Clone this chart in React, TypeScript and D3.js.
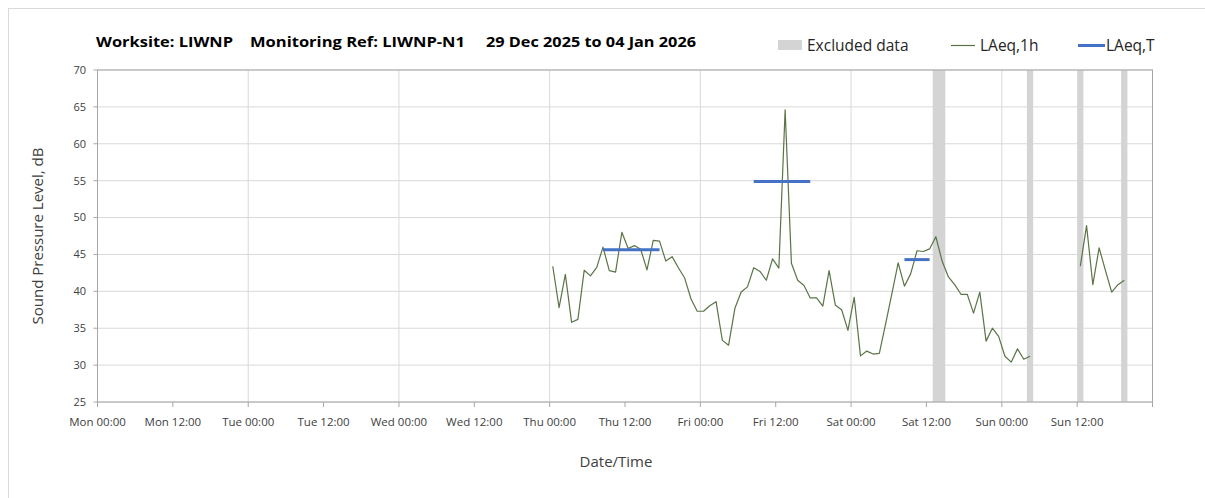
import React from 'react'
import * as d3 from 'd3'

const W = 1205, H = 498
const FONT = "'Open Sans', sans-serif"

// hourly LAeq,1h readings, first hour Thu 01 Jan 2026 00:00-01:00 (plotted at mid hour)
const firstHour = new Date(2026, 0, 1, 0, 30)
const laeq1h = [
    43.4, 37.8, 42.3, 35.8, 36.2, 42.85, 42.1, 43.25, 46.0, 42.8, 42.6, 48.0,
    45.8, 46.2, 45.7, 42.9, 46.9, 46.8, 44.1, 44.7, 43.2, 41.8, 39.0, 37.3,
    37.3, 38.05, 38.6, 33.35, 32.7, 37.7, 39.9, 40.6, 43.2, 42.7, 41.5, 44.4,
    43.15, 64.6, 43.8, 41.5, 40.8, 39.1, 39.1, 38.0, 42.8, 38.1, 37.5, 34.7,
    39.2, 31.25, 31.9, 31.5, 31.6, 35.6, 39.7, 43.85, 40.7, 42.4, 45.5, 45.4,
    45.75, 47.4, 44.1, 41.95, 40.9, 39.6, 39.6, 37.05, 39.9, 33.25, 35.0, 33.9,
    31.2, 30.4, 32.2, 30.8, 31.2, null, null, null, null, null, null, null,
    43.4, 48.9, 40.9, 45.9, 42.85, 39.9, 40.9, 41.5
]

// LAeq,T periods
const laeqTStart = ['2026-01-01T08:30', '2026-01-02T08:30', '2026-01-03T08:30']
const laeqTEnd = ['2026-01-01T17:30', '2026-01-02T17:30', '2026-01-03T12:30']
const laeqT = [45.65, 54.9, 44.3]

// excluded data periods
const exclStart = ['2026-01-03T13:00', '2026-01-04T04:00', '2026-01-04T12:00', '2026-01-04T19:00']
const exclEnd = ['2026-01-03T15:00', '2026-01-04T05:00', '2026-01-04T13:00', '2026-01-04T20:00']

const yTicks = [25, 30, 35, 40, 45, 50, 55, 60, 65, 70]

const plot = { left: 97.5, right: 1152.5, top: 70, bottom: 402 }

const x = d3.scaleTime()
    .domain([new Date(2025, 11, 29), new Date(2026, 0, 5)])
    .range([plot.left, plot.right])
const y = d3.scaleLinear().domain([25, 70]).range([plot.bottom, plot.top])

const hourly = laeq1h.map((v, i) => ({ t: d3.timeHour.offset(firstHour, i), v }))
const fmt = d3.timeFormat('%a %H:%M')

const GREEN = '#5b7446'
const BLUE = '#4472c4'
const EXCL = '#d4d4d4'
const GRID = '#d9d9d9'
const AXIS = '#a6a6a6'
const TXT = '#404040'

const Grid = () => {
    const days = x.ticks(d3.timeDay.every(1))
    return <g>
        {yTicks.map(t => <line key={'h' + t} x1={plot.left} x2={plot.right} y1={y(t)} y2={y(t)} stroke={GRID} strokeWidth={1} />)}
        {days.map(d => <line key={'v' + d.getTime()} x1={x(d)} x2={x(d)} y1={plot.top} y2={plot.bottom} stroke={GRID} strokeWidth={1} />)}
    </g>
}

const Excluded = () => <g>
    {exclStart.map((s, i) => {
        const x0 = x(new Date(s)), x1 = x(new Date(exclEnd[i]))
        return <rect key={s} x={x0} y={plot.top} width={x1 - x0} height={plot.bottom - plot.top} fill={EXCL} />
    })}
</g>

const Axes = () => {
    const ticks = x.ticks(d3.timeHour.every(12))
    const last = ticks.length - 1
    return <g>
        <rect x={plot.left} y={plot.top} width={plot.right - plot.left} height={plot.bottom - plot.top} fill="none" stroke={AXIS} strokeWidth={1} />
        {ticks.map((d, i) => <g key={d.getTime()} transform={`translate(${x(d)},0)`}>
            <line y1={plot.bottom} y2={plot.bottom + 5} stroke={AXIS} />
            {i < last && <text y={426} textAnchor="middle" fontSize={11.5} fill={TXT}>{fmt(d)}</text>}
        </g>)}
        {yTicks.map(t => <g key={t} transform={`translate(0,${y(t)})`}>
            <line x1={plot.left - 4} x2={plot.left} stroke={AXIS} />
            <text x={86} dy="0.35em" textAnchor="end" fontSize={11} fill={TXT}>{t}</text>
        </g>)}
        <text x={616} y={467} textAnchor="middle" fontSize={15} fill={TXT}>Date/Time</text>
        <text transform={`translate(43,${(plot.top + plot.bottom) / 2}) rotate(-90)`} textAnchor="middle" fontSize={15} fill={TXT}>Sound Pressure Level, dB</text>
    </g>
}

const Series = () => {
    const line = d3.line<{ t: Date, v: number | null }>()
        .defined(d => d.v !== null)
        .x(d => x(d.t))
        .y(d => y(d.v as number))
    return <g>
        <path d={line(hourly) || ''} fill="none" stroke={GREEN} strokeWidth={1.2} strokeLinejoin="round" />
        {laeqT.map((v, i) => <line key={i} x1={x(new Date(laeqTStart[i]))} x2={x(new Date(laeqTEnd[i]))}
            y1={y(v)} y2={y(v)} stroke={BLUE} strokeWidth={3} />)}
    </g>
}

const Title = () => <g fontWeight="bold" fontSize={15} fill="#000">
    <text x={96} y={47} textLength={137} lengthAdjust="spacingAndGlyphs">Worksite: LIWNP</text>
    <text x={250} y={47} textLength={215} lengthAdjust="spacingAndGlyphs">Monitoring Ref: LIWNP-N1</text>
    <text x={486} y={47} textLength={210} lengthAdjust="spacingAndGlyphs">29 Dec 2025 to 04 Jan 2026</text>
</g>

const Legend = () => <g fontSize={15.5} fill="#262626">
    <rect x={778} y={40} width={24} height={10} fill={EXCL} />
    <text x={807} y={51}>Excluded data</text>
    <line x1={951} x2={975} y1={45.5} y2={45.5} stroke={GREEN} strokeWidth={1.2} />
    <text x={980} y={51}>LAeq,1h</text>
    <line x1={1078} x2={1105} y1={45.5} y2={45.5} stroke={BLUE} strokeWidth={3} />
    <text x={1106} y={51}>LAeq,T</text>
</g>

export default function App() {
    return (
        <svg width={W} height={H} fontFamily={FONT}
            style={{ position: 'absolute', left: 0, top: 0, display: 'block', background: '#fff' }}>
            <rect x={8.5} y={8.5} width={W + 20} height={H + 20} fill="#fff" stroke={GRID} />
            <Title />
            <Legend />
            <Grid />
            <Excluded />
            <Axes />
            <Series />
        </svg>
    )
}
